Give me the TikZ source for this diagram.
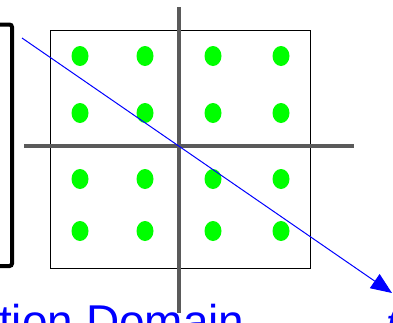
\documentclass[tikz,border=0pt]{standalone}
\usepackage{fontspec}
\setmainfont{Liberation Sans}
\usetikzlibrary{arrows.meta}
\definecolor{ink}{RGB}{0,0,0}
\definecolor{axisgray}{RGB}{90,90,90}
\definecolor{sample}{RGB}{0,255,0}
\definecolor{cut}{RGB}{0,0,255}
\tikzset{
  bracket/.style={draw=ink, line width=4pt, rounded corners=2.5pt},
  frame/.style={draw=ink, line width=0.9pt},
  axisline/.style={draw=axisgray, line width=3.3pt},
  dot/.style={fill=sample},
  sweep/.style={draw=cut, line width=1pt, -{Triangle[length=21pt,width=17pt]}},
  lbl/.style={text=cut, inner sep=0pt, font=\fontsize{46}{50}\selectfont},
}

\begin{document}
\begin{tikzpicture}[x=1pt,y=-1pt]
  \useasboundingbox (0,0) rectangle (393,322);
  % left bracket, cut by the page
  \draw[bracket] (-3,24.5) -- (12,24.5) -- (12,266) -- (-3,266);
  % sample grid
  \draw[frame] (50,30) rectangle (310,268);
  \foreach \x in {80,145,213,281}
    \foreach \y in {56,113,179,231}
      \fill[dot] (\x,\y) ellipse (8.5pt and 10pt);
  % axes
  \coordinate (vtop) at (179,7);
  \coordinate (vbot) at (179,313);
  \coordinate (hleft) at (24,146);
  \coordinate (hright) at (354,146);
  \draw[axisline] (vtop) -- (vbot);
  \draw[axisline] (hleft) -- (hright);
  % direction
  \coordinate (from) at (22,38);
  \coordinate (to) at (392,293);
  \draw[sweep] (from) -- (to);
  \node[lbl, anchor=base west] (dom) at (-1,337) {tion Domain};
  \node[lbl, anchor=base west, font=\fontsize{40}{44}\selectfont\itshape] (tlab) at (386,337) {t};
\end{tikzpicture}
\end{document}
